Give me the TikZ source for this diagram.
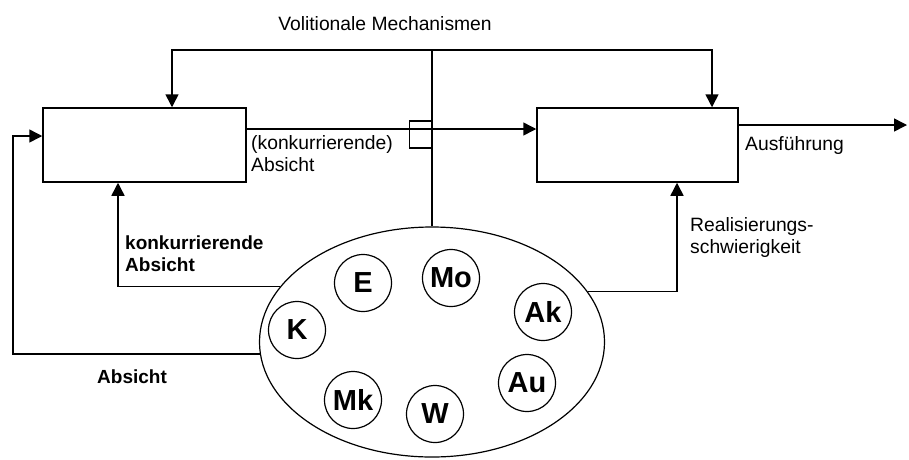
\documentclass[tikz,border=0pt]{standalone}
\usepackage{fontspec}
\setmainfont{Liberation Sans}
\usetikzlibrary{arrows.meta,shapes.geometric}
\begin{document}
\begin{tikzpicture}[x=1pt,y=-1pt,
  line/.style={line width=1.5pt,line join=miter},
  arr/.style={line,-{Triangle[length=13pt,width=13pt]}},
  bigbox/.style={draw,line width=1.5pt,minimum width=203pt,minimum height=74pt,inner sep=0pt},
  factor/.style={draw,circle,line width=1.2pt,minimum size=57pt,inner sep=0pt,font=\bfseries\fontsize{29}{31}\selectfont},
  lbl/.style={anchor=base west,inner sep=0pt,align=left,font=\fontsize{19.3}{22}\selectfont},
  blbl/.style={lbl,font=\bfseries\fontsize{19}{22}\selectfont}]
\useasboundingbox (0,0) rectangle (909,459);
% boxes
\node[bigbox] (boxL) at (144.5,145) {};
\node[bigbox,minimum width=201pt] (boxR) at (637.5,145) {};
% ellipse with factors
\node[draw,ellipse,line width=1.2pt,minimum width=345pt,minimum height=230pt,inner sep=0pt] (ell) at (432,342) {};
\node[factor] (E) at (363,283) {E};
\node[factor] (Mo) at (451,278) {Mo};
\node[factor] (Ak) at (543,312) {Ak};
\node[factor] (K) at (297,330) {K};
\node[factor] (Au) at (527,383) {Au};
\node[factor] (Mk) at (353,400) {Mk};
\node[factor] (W) at (435,414) {W};
% coordinates
\coordinate (top) at (432,50);
\coordinate (tl) at (172,50);
\coordinate (tr) at (712,50);
\coordinate (c2) at (13,136);
\coordinate (out) at (907,125);
% volitional mechanisms
\draw[line] (ell.north) -- (top);
\draw[arr] (top) -- (tl) -- (tl |- boxL.north);
\draw[arr] (top) -- (tr) -- (tr |- boxR.north);
% intention to execution, with crossing bracket
\draw[arr] ([yshift=16pt]boxL.east) -- ([yshift=16pt]boxL.east -| boxR.west);
\node[draw,line width=1.5pt,minimum width=22pt,minimum height=27pt,inner sep=0pt,anchor=east] (jump) at (432,134.5) {};
\draw[arr] ([yshift=20pt]boxR.east) -- (out);
% feedback connectors
\draw[arr] (ell.160) -| ([xshift=-26.5pt]boxL.south);
\draw[arr] (ell.184) -| (c2) -- (c2 -| boxL.west);
\draw[arr] (ell.18) -| ([xshift=39.5pt]boxR.south);
% labels (base = last line)
\node[lbl,anchor=base] (title) at (385,30) {Volitionale Mechanismen};
\node[lbl] (lab1) at (251,171) {(konkurrierende)\\Absicht};
\node[lbl] (lab2) at (745,150) {Ausführung};
\node[lbl] (lab3) at (690,253) {Realisierungs-\\schwierigkeit};
\node[blbl] (lab4) at (125,271) {konkurrierende\\Absicht};
\node[blbl] (lab5) at (97,383) {Absicht};
\end{tikzpicture}
\end{document}
